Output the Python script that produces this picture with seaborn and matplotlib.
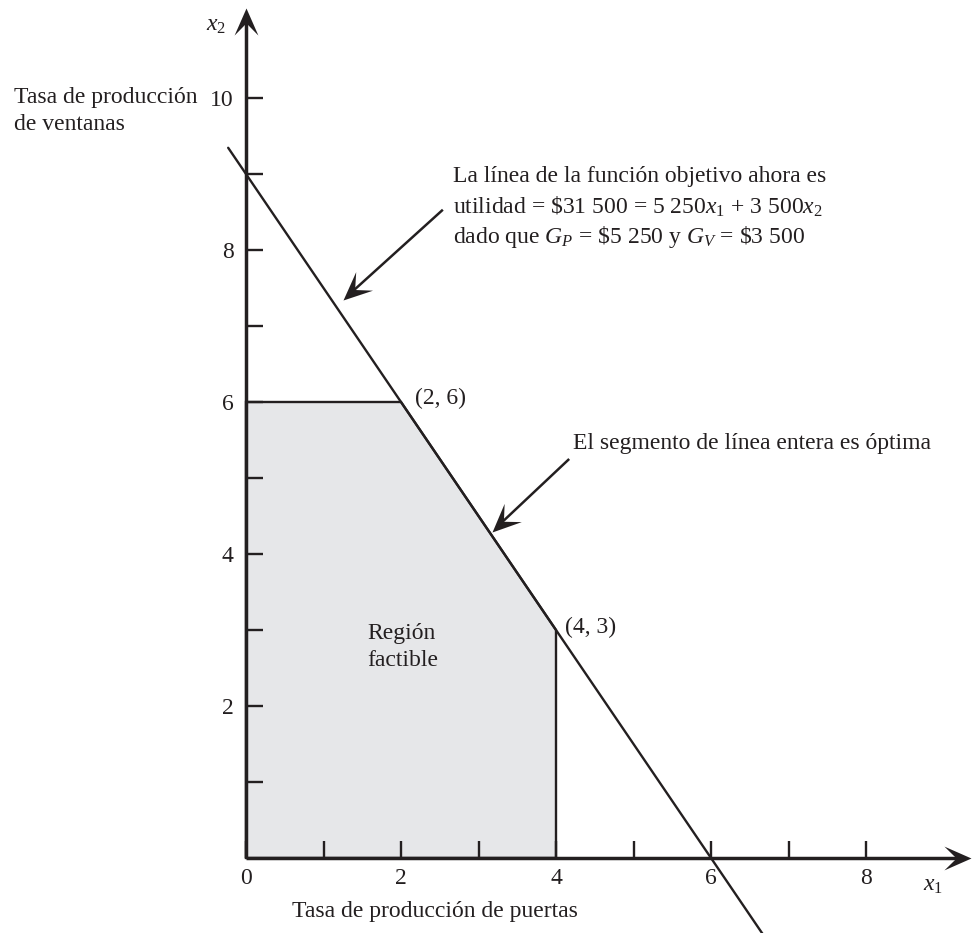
import numpy as np
import matplotlib
matplotlib.use("Agg")
import matplotlib.pyplot as plt
import seaborn as sns
from matplotlib.path import Path
from matplotlib.markers import MarkerStyle
from matplotlib.transforms import Affine2D
from matplotlib.ticker import FixedLocator, NullFormatter

# ---- data ----
line_x = [-0.23, 6.76]          # objective line 5250 x1 + 3500 x2 = 31500
line_y = [9.345, -1.14]
region_x = [0, 0, 2, 4, 4]      # feasible region vertices
region_y = [0, 6, 6, 3, 0]
x_major = [0, 2, 4, 6, 8]
x_minor = [1, 3, 5, 7]
y_major = [2, 4, 6, 8, 10]
y_minor = [1, 3, 5, 7, 9]
corner_labels = ["(2, 6)", "(4, 3)"]

sns.set_theme(style="white")
plt.rcParams["font.family"] = ["Liberation Serif", "DejaVu Serif"]
plt.rcParams["mathtext.fontset"] = "custom"
plt.rcParams["mathtext.rm"] = "Liberation Serif"
plt.rcParams["mathtext.it"] = "Liberation Serif:italic"
plt.rcParams["mathtext.bf"] = "Liberation Serif:bold"

ink = "#231f20"
fs = 17

fig = plt.figure(figsize=(9.75, 9.33), dpi=100)
ax = fig.add_axes([0, 0, 1, 1])
ax.set_xlim(-246 / 77.5, (975 - 246) / 77.5)
ax.set_ylim((858 - 933) / 76.0, 858 / 76.0)
ax.set_facecolor("white")
ax.set_axisbelow(False)

# feasible region
ax.fill(region_x, region_y, facecolor="#e6e7e9", edgecolor=ink, lw=1.7, zorder=1)

# objective line
sns.lineplot(x=line_x, y=line_y, color=ink, lw=1.7, sort=False, ax=ax, zorder=3)

# spines positioned at the origin (hidden, arrows drawn instead); ticks follow them
for s in ["top", "right"]:
    ax.spines[s].set_visible(False)
ax.spines["left"].set_position(("data", 0))
ax.spines["bottom"].set_position(("data", 0))
ax.spines["left"].set_visible(False)
ax.spines["bottom"].set_visible(False)

ax.xaxis.set_major_locator(FixedLocator(x_major))
ax.xaxis.set_minor_locator(FixedLocator(x_minor))
ax.yaxis.set_major_locator(FixedLocator(y_major))
ax.yaxis.set_minor_locator(FixedLocator(y_minor))
ax.set_xticklabels([str(v) for v in x_major])
ax.set_yticklabels([str(v) for v in y_major])
ax.xaxis.set_minor_formatter(NullFormatter())
ax.yaxis.set_minor_formatter(NullFormatter())
ax.tick_params(axis="both", which="both", direction="in", length=12, width=1.7,
               color=ink, labelcolor=ink, labelsize=fs)
ax.tick_params(axis="x", which="both", pad=7, bottom=True, top=False)
ax.tick_params(axis="y", which="both", pad=9, left=True, right=False)
ax.grid(False)

# arrow helper with notched head
head = Path([(0, 0), (-1, 0.44), (-0.55, 0), (-1, -0.44), (0, 0)],
            [Path.MOVETO, Path.LINETO, Path.LINETO, Path.LINETO, Path.CLOSEPOLY])


def arrow(tail, tip, lw, ms):
    p0 = ax.transData.transform(tail)
    p1 = ax.transData.transform(tip)
    d = p1 - p0
    ang = np.degrees(np.arctan2(d[1], d[0]))
    L = np.hypot(*d)
    head_px = 0.5 * ms * 100 / 72.0
    pe = p1 - d / L * head_px * 0.5
    end = ax.transData.inverted().transform(pe)
    ax.plot([tail[0], end[0]], [tail[1], end[1]], color=ink, lw=lw,
            solid_capstyle="butt", zorder=4)
    m = MarkerStyle(head, transform=Affine2D().rotate_deg(ang))
    ax.plot([tip[0]], [tip[1]], marker=m, ms=ms, color=ink, mew=0,
            linestyle="none", zorder=5)


# axes
arrow((0, 0), (9.35, 0), 2.5, 39)
arrow((0, 0), (0, 11.18), 2.5, 39)
# annotation arrows
arrow((2.54, 8.53), (1.25, 7.34), 1.8, 41)
arrow((4.17, 5.25), (3.17, 4.29), 1.8, 41)

# texts
ax.text(-0.39, 10.96, "$x_2$", fontsize=fs, color=ink, ha="center", va="center")
ax.text(8.86, -0.36, "$x_1$", fontsize=fs, color=ink, ha="center", va="center")
ax.text(-2.99, 9.83, "Tasa de producción\nde ventanas", fontsize=fs, color=ink,
        ha="left", va="center", linespacing=1.4)
ax.text(2.44, -0.71, "Tasa de producción de puertas", fontsize=fs, color=ink,
        ha="center", va="center")

ax.text(2.67, 8.97, "La línea de la función objetivo ahora es", fontsize=fs,
        color=ink, ha="left", va="center")
ax.text(2.67, 8.57, r"utilidad = \$31 500 = 5 250$x_1$ + 3 500$x_2$", fontsize=fs,
        color=ink, ha="left", va="center")
ax.text(2.67, 8.17, r"dado que $G_P$ = \$5 250 y $G_V$ = \$3 500", fontsize=fs,
        color=ink, ha="left", va="center")
ax.text(4.22, 5.46, "El segmento de línea entera es óptima", fontsize=fs,
        color=ink, ha="left", va="center")
ax.text(2.18, 6.05, corner_labels[0], fontsize=fs, color=ink, ha="left", va="center")
ax.text(4.12, 3.04, corner_labels[1], fontsize=fs, color=ink, ha="left", va="center")
ax.text(1.56, 2.78, "Región\nfactible", fontsize=fs, color=ink, ha="left",
        va="center", linespacing=1.4)

fig.savefig("out.png", dpi=100)
